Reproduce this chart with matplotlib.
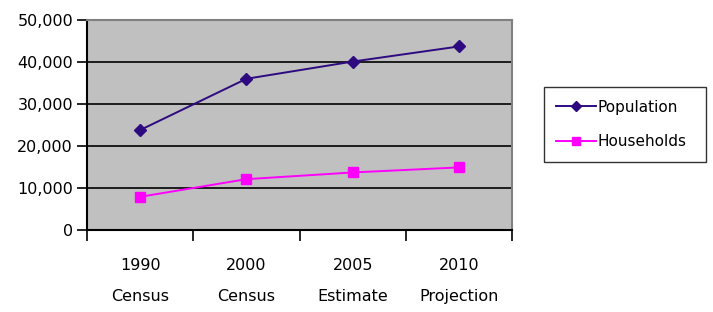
import matplotlib
matplotlib.use("Agg")
import matplotlib.pyplot as plt
import numpy as np

categories = ["1990\nCensus", "2000\nCensus", "2005\nEstimate", "2010\nProjection"]
population = [23800, 36000, 40100, 43700]
households = [7900, 12100, 13700, 14900]
yticks = [0, 10000, 20000, 30000, 40000, 50000]

plt.rcParams['font.family'] = ['DejaVu Sans']
fig = plt.figure(figsize=(7.13, 3.12), dpi=100)
ax = fig.add_axes([87/713, 1-230/312, (512-87)/713, (230-20)/312])
ax.set_facecolor('#C0C0C0')
x = np.arange(len(categories))
l1, = ax.plot(x, population, color='#2E0A80', marker='D', markersize=6.5, lw=1.4, label='Population')
l2, = ax.plot(x, households, color='#FF00FF', marker='s', markersize=7, lw=1.4, label='Households')
ax.set_xlim(-0.5, 3.5)
ax.set_ylim(0, 50000)
ax.set_yticks(yticks)
ax.set_yticklabels([f"{v:,}" for v in yticks], fontsize=11.5)
ax.yaxis.grid(True, color='black', lw=1.2)
ax.set_axisbelow(True)
ax.set_xticks(x)
ax.set_xticklabels(categories, fontsize=11.5, linespacing=2.35)
ax.set_xticks(np.arange(-0.5, 4.0, 1.0), minor=True)
ax.tick_params(axis='x', which='major', length=0, pad=20)
ax.tick_params(axis='x', which='minor', length=8, width=1.2, direction='out')
ax.tick_params(axis='y', length=7, width=1.2, direction='out', pad=3)
for s in ['left', 'bottom']:
    ax.spines[s].set_color('black')
    ax.spines[s].set_linewidth(1.5)
for s in ['top', 'right']:
    ax.spines[s].set_color('#808080')
    ax.spines[s].set_linewidth(1.5)

leg = fig.legend(handles=[l1, l2], loc='center', bbox_to_anchor=(544/713, 1-162/312, 162/713, 75/312),
                 mode='expand', borderaxespad=0, fancybox=False, edgecolor='black', fontsize=11,
                 handlelength=2.6, handletextpad=0.1, labelspacing=1.3, borderpad=0.8,
                 markerscale=0.75)
leg.get_frame().set_linewidth(1.0)
fig.savefig("out.png", dpi=100)
